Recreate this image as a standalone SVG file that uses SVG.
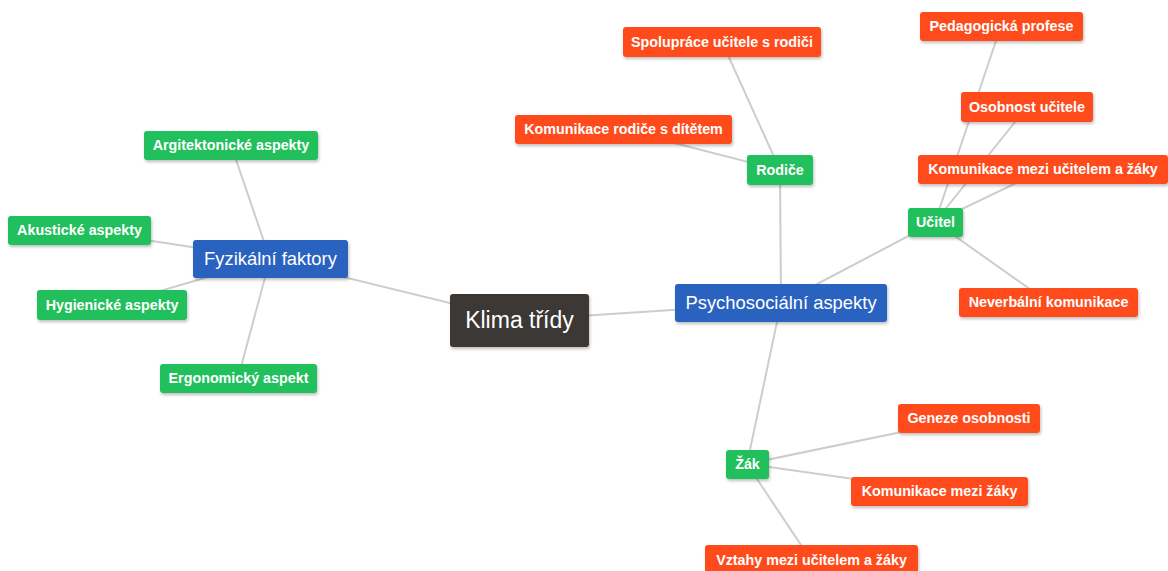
<svg xmlns="http://www.w3.org/2000/svg" width="1168" height="571" viewBox="0 0 1168 571">
<defs>
<filter id="sh" x="-20%" y="-30%" width="140%" height="170%">
<feDropShadow dx="1" dy="2" stdDeviation="1.5" flood-color="#000" flood-opacity="0.25"/>
</filter>
<style>
.e{stroke:#cdcdcd;stroke-width:2;fill:none}
.n rect{filter:url(#sh);rx:3;ry:3}
.g rect{fill:#20c05d}
.o rect{fill:#ff4b1f}
.b rect{fill:#2962bf}
.k rect{fill:#3b3735}
text{font-family:"Liberation Sans",Arial,sans-serif;fill:#fff;text-anchor:middle;dominant-baseline:central}
.s text{font-size:14.3px;font-weight:bold}
.b text{font-size:18.4px}
.k text{font-size:23px}
</style>
</defs>
<rect width="1168" height="571" fill="#fff"/>
<g id="connectors">
<line class="e" x1="519" y1="320" x2="270" y2="259"/>
<line class="e" x1="519" y1="320" x2="781" y2="303"/>
<line class="e" x1="270" y1="259" x2="231" y2="145"/>
<line class="e" x1="270" y1="259" x2="80" y2="230"/>
<line class="e" x1="270" y1="259" x2="112" y2="305"/>
<line class="e" x1="270" y1="259" x2="238" y2="378"/>
<line class="e" x1="781" y1="303" x2="780" y2="170"/>
<line class="e" x1="781" y1="303" x2="935" y2="222"/>
<line class="e" x1="781" y1="303" x2="747" y2="464"/>
<line class="e" x1="780" y1="170" x2="722" y2="42"/>
<line class="e" x1="780" y1="170" x2="623" y2="130"/>
<line class="e" x1="935" y1="222" x2="1001" y2="26"/>
<line class="e" x1="935" y1="222" x2="1027" y2="107"/>
<line class="e" x1="935" y1="222" x2="1043" y2="170"/>
<line class="e" x1="935" y1="222" x2="1048" y2="302"/>
<line class="e" x1="747" y1="464" x2="969" y2="418"/>
<line class="e" x1="747" y1="464" x2="939" y2="491"/>
<line class="e" x1="747" y1="464" x2="811" y2="560"/>
</g>
<g id="klima" class="n k"><rect x="450" y="294" width="139" height="53"/><text x="519.5" y="320">Klima třídy</text></g>
<g id="fyzikalni" class="n b"><rect x="193" y="240" width="155" height="38"/><text x="270.5" y="258.5">Fyzikální faktory</text></g>
<g id="psycho" class="n b"><rect x="675" y="284" width="212" height="38"/><text x="781" y="302.5">Psychosociální aspekty</text></g>
<g id="argitekt" class="n s g"><rect x="144" y="131" width="174" height="29"/><text x="231" y="145">Argitektonické aspekty</text></g>
<g id="akust" class="n s g"><rect x="8" y="216" width="143" height="29"/><text x="79.5" y="230">Akustické aspekty</text></g>
<g id="hyg" class="n s g"><rect x="37" y="290" width="150" height="30"/><text x="112" y="304.5">Hygienické aspekty</text></g>
<g id="ergo" class="n s g"><rect x="160" y="364" width="157" height="29"/><text x="238.5" y="378">Ergonomický aspekt</text></g>
<g id="rodice" class="n s g"><rect x="747" y="155" width="66" height="30"/><text x="780" y="169.5">Rodiče</text></g>
<g id="ucitel" class="n s g"><rect x="908" y="208" width="55" height="29"/><text x="935.5" y="222">Učitel</text></g>
<g id="zak" class="n s g"><rect x="726" y="450" width="43" height="29"/><text x="747.5" y="464">Žák</text></g>
<g id="spoluprace" class="n s o"><rect x="623" y="27" width="198" height="30"/><text x="722" y="41.5">Spolupráce učitele s rodiči</text></g>
<g id="komrodice" class="n s o"><rect x="515" y="115" width="217" height="29"/><text x="623.5" y="129">Komunikace rodiče s dítětem</text></g>
<g id="pedag" class="n s o"><rect x="920" y="12" width="163" height="29"/><text x="1001.5" y="26">Pedagogická profese</text></g>
<g id="osobnost" class="n s o"><rect x="961" y="92" width="132" height="30"/><text x="1027" y="106.5">Osobnost učitele</text></g>
<g id="kommezi" class="n s o"><rect x="918" y="155" width="250" height="29"/><text x="1043" y="169">Komunikace mezi učitelem a žáky</text></g>
<g id="neverb" class="n s o"><rect x="959" y="288" width="179" height="29"/><text x="1048.5" y="302">Neverbální komunikace</text></g>
<g id="geneze" class="n s o"><rect x="898" y="404" width="142" height="29"/><text x="969" y="418">Geneze osobnosti</text></g>
<g id="komzaky" class="n s o"><rect x="851" y="477" width="177" height="29"/><text x="939.5" y="491">Komunikace mezi žáky</text></g>
<g id="vztahy" class="n s o"><rect x="705" y="545" width="213" height="30"/><text x="811.5" y="559.5">Vztahy mezi učitelem a žáky</text></g>
</svg>
